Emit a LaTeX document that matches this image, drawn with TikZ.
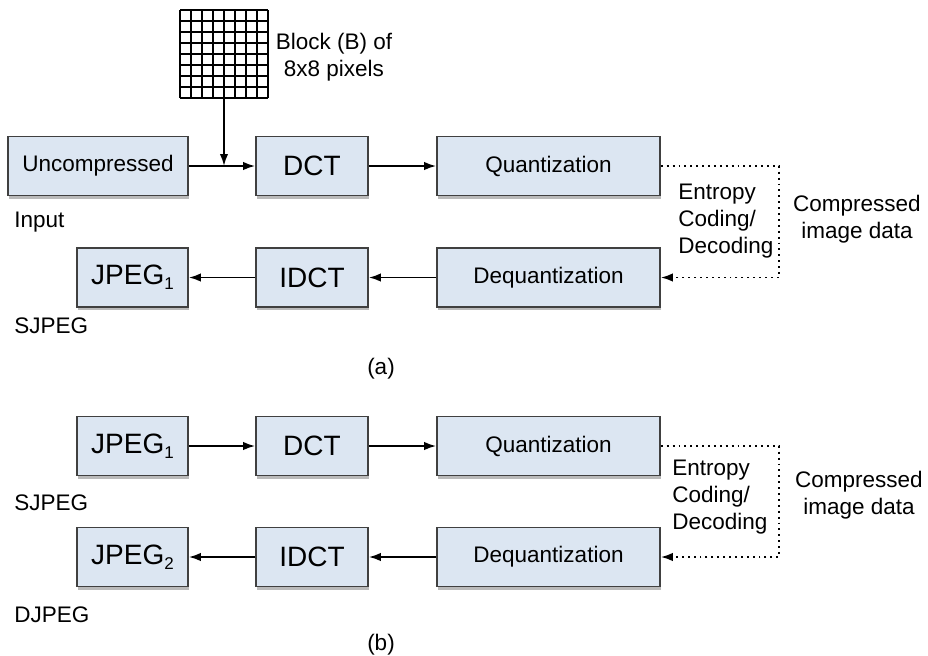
\documentclass[tikz,border=0pt]{standalone}
\usepackage{fontspec}
\setmainfont{Liberation Sans}
\usepackage{tikz}
\usetikzlibrary{arrows.meta, shadows, calc, positioning}

\newcommand{\lowsub}[1]{\raisebox{-0.35ex}{\fontsize{8.5}{9}\selectfont #1}}

\tikzset{
  stage/.style={draw=black!75, line width=0.8pt, fill={rgb,255:red,220;green,230;blue,242},
    minimum height=29.5pt, inner sep=0pt, font=\fontsize{11.25}{13}\selectfont,
    drop shadow={shadow xshift=0.6pt, shadow yshift=-1.6pt, fill=black!45, opacity=0.6}},
  bigstage/.style={stage, font=\fontsize{14}{16}\selectfont},
  flow/.style={line width=0.95pt, -{Latex[length=6pt,width=4.2pt]}},
  entropy/.style={line width=0.95pt, dotted, -{Latex[length=6pt,width=4.2pt]}},
  caption/.style={font=\fontsize{11.25}{13.5}\selectfont, inner sep=0pt},
}

\begin{document}
\begin{tikzpicture}[x=0.5pt, y=-0.5pt]
                    \useasboundingbox (0,0) rectangle (928,655);
                    % 8x8 block
                    \foreach \i in {0,...,8} {
                        \draw[line width=0.8pt] ({180+\i*11},10) -- ({180+\i*11},98);
                        \draw[line width=0.8pt] (180,{10+\i*11}) -- (268,{10+\i*11});
                    }
                    \coordinate (blk) at (224,98);
                    \node[caption, align=center] (blktxt) at (334,57) {Block (B) of\\8x8 pixels};

                    % (a)
                    \node[stage, minimum width=90pt] (uncA) at (98,166) {Uncompressed};
                    \node[bigstage, minimum width=56pt] (dctA) at (312,166) {DCT};
                    \node[stage, minimum width=111.5pt] (quanA) at (548.5,166) {Quantization};
                    \node[stage, minimum width=111.5pt] (deqA) at (548.5,277.5) {Dequantization};
                    \node[bigstage, minimum width=56pt] (idctA) at (312,277.5) {IDCT};
                    \node[bigstage, minimum width=55.5pt] (jpgA) at (132.5,277.5) {JPEG\lowsub{1}};
                    \node[caption, anchor=west] (inA) at (14,222) {Input};
                    \node[caption, anchor=west] (sjA) at (14,326) {SJPEG};
                    \node[caption] (capA) at (381,369) {(a)};
                    \node[caption, anchor=west, align=left] (entA) at (678,221) {Entropy\\Coding/\\Decoding};
                    \node[caption, align=center] (cidA) at (857,219) {Compressed\\image data};
                    \coordinate (edgeA) at (779,222);

                    \draw[flow] (uncA) -- (dctA);
                    \draw[flow] (blk) -- (blk |- uncA.east);
                    \draw[flow] (dctA) -- (quanA);
                    \draw[entropy] (quanA.east) -| (edgeA) |- (deqA.east);
                    \draw[flow] (deqA) -- (idctA);
                    \draw[flow] (idctA) -- (jpgA);

                    % (b)
                    \node[bigstage, minimum width=55.5pt] (jpgB) at (132.5,446) {JPEG\lowsub{1}};
                    \node[bigstage, minimum width=56pt] (dctB) at (312,446) {DCT};
                    \node[stage, minimum width=111.5pt] (quanB) at (548.5,446) {Quantization};
                    \node[stage, minimum width=111.5pt] (deqB) at (548.5,557) {Dequantization};
                    \node[bigstage, minimum width=56pt] (idctB) at (312,557) {IDCT};
                    \node[bigstage, minimum width=55.5pt] (jpgC) at (132.5,557) {JPEG\lowsub{2}};
                    \node[caption, anchor=west] (sjB) at (14,503) {SJPEG};
                    \node[caption, anchor=west] (djB) at (14,615) {DJPEG};
                    \node[caption] (capB) at (381,645) {(b)};
                    \node[caption, anchor=west, align=left] (entB) at (672,497) {Entropy\\Coding/\\Decoding};
                    \node[caption, align=center] (cidB) at (859,495) {Compressed\\image data};
                    \coordinate (edgeB) at (779,500);

                    \draw[flow] (jpgB) -- (dctB);
                    \draw[flow] (dctB) -- (quanB);
                    \draw[entropy] (quanB.east) -| (edgeB) |- (deqB.east);
                    \draw[flow] (deqB) -- (idctB);
                    \draw[flow] (idctB) -- (jpgC);
                \end{tikzpicture}
\end{document}
